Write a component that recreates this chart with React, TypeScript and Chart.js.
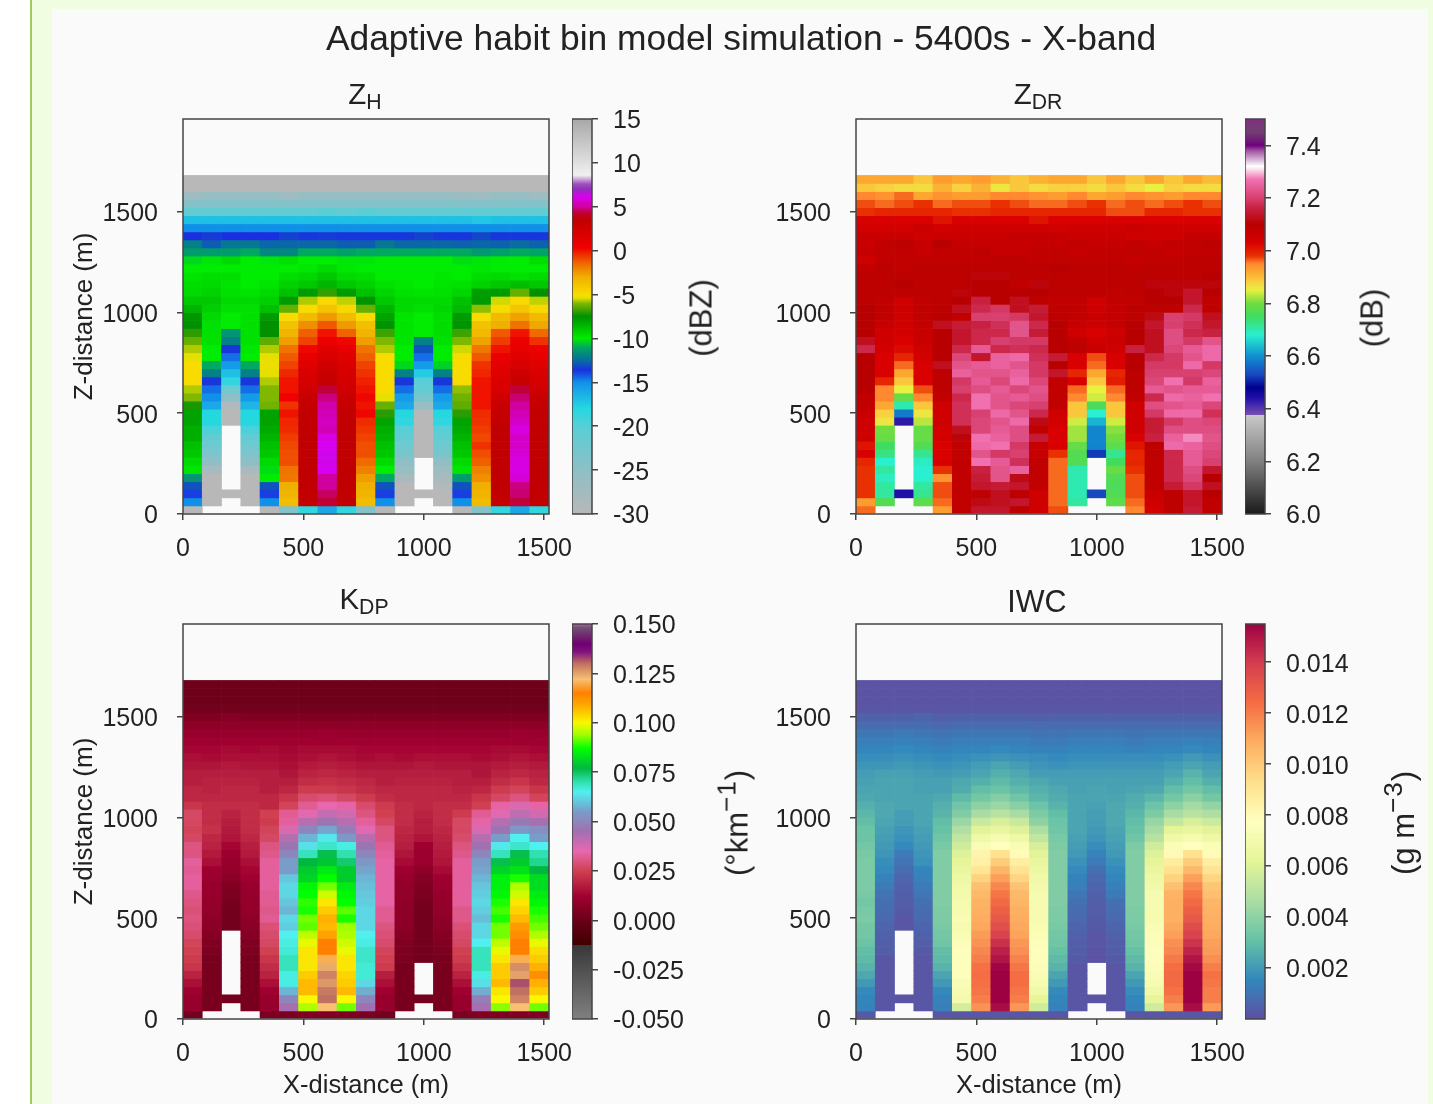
import React, { useEffect, useRef } from "react";
import { Chart, registerables } from "chart.js";

Chart.register(...registerables);

const n = null;
const xStep = 80;
const zStep = 40;
const xMax = 1520;
const zMax = 1960;
const xTicks = [0, 500, 1000, 1500];
const zTicks = [0, 500, 1000, 1500];
const zhTicks = [-30, -25, -20, -15, -10, -5, 0, 5, 10, 15];
const zdrTicks = [6.0, 6.2, 6.4, 6.6, 6.8, 7.0, 7.2, 7.4];
const kdpTicks = [-0.05, -0.025, 0, 0.025, 0.05, 0.075, 0.1, 0.125, 0.15];
const iwcTicks = [0.002, 0.004, 0.006, 0.008, 0.01, 0.012, 0.014];

// ZH (dBZ): rows from z = 1660 m (top) to z = 20 m (bottom)
const zhRows: (number | null)[][] = [
  [-30, -30, -30, -30, -30, -30, -30, -30, -30, -30, -30, -30, -30, -30, -30, -30, -30, -30, -30],
  [-30, -30, -30, -30, -30, -30, -30, -30, -30, -30, -30, -30, -30, -30, -30, -30, -30, -30, -30],
  [-27, -26, -26, -26, -26, -27, -26, -26, -26, -26, -26, -26, -26, -26, -26.5, -27, -26, -26, -27],
  [-24, -24, -24, -24, -24, -24, -24, -24, -24, -24, -24, -24, -24, -24, -24, -24, -24, -24, -24],
  [-21, -21, -21, -21, -21, -21, -21, -20.5, -21, -20.5, -21, -21, -21, -21, -21, -21, -21, -21, -21],
  [-17, -17, -17, -17, -17, -17, -17, -17, -17, -17, -17, -17, -17, -17, -17, -17.3, -17, -17, -17],
  [-15, -15, -15, -15, -15, -15, -15, -15, -15, -15, -15, -15, -15, -15, -15, -15, -15, -15, -15],
  [-13.6, -13.4, -13.6, -13.6, -13.6, -13.3, -13.5, -13.4, -13.5, -13.5, -13.5, -13.5, -13.3, -13.5, -13.5, -13.2, -13.5, -13.5, -13.5],
  [-12, -12.8, -12.2, -12.2, -12.6, -12.6, -12.6, -12.6, -12.8, -12.8, -12.2, -12.6, -12.6, -12.6, -12.7, -12.6, -12.7, -12.5, -12.7],
  [-11.3, -11.3, -11.3, -11, -11.8, -11.8, -11, -11, -11.2, -11, -11, -11, -11, -11, -11, -11.4, -11.2, -11, -11.1],
  [-10.3, -10.1, -9.5, -10, -10.1, -9.7, -10, -10, -10.1, -10.1, -10, -10, -10, -10, -10.2, -10.1, -10, -10, -9.6],
  [-10, -10, -10, -10, -10, -10, -9.9, -9.5, -9.9, -10, -10, -10, -10, -10, -10, -9.9, -10, -10, -10],
  [-9.8, -9.6, -9.6, -10, -10, -9.6, -9.4, -9, -9.5, -9.6, -10, -10, -10, -9.9, -10, -9.6, -9.5, -9.7, -9.5],
  [-9.6, -9.5, -9.8, -10, -9.8, -9.3, -9, -8.5, -9, -9.3, -9.7, -9.9, -10, -9.8, -9.7, -9.3, -9, -8.7, -9],
  [-9.5, -9.3, -9.7, -9.8, -9.5, -8.8, -7.8, -6.9, -7.8, -8.8, -9.4, -9.7, -9.8, -9.7, -9.4, -7.9, -7.8, -6.3, -7.5],
  [-9, -9, -9.5, -9.5, -9.2, -7.8, -5.7, -4.9, -5.6, -7.6, -9, -9.5, -9.5, -9.5, -8.8, -7.8, -5.5, -4.9, -5.6],
  [-8.5, -9.2, -9.7, -9.7, -8.8, -6.3, -5, -3.8, -4.8, -6.3, -8.5, -9.5, -9.7, -9.4, -8.6, -5.9, -5, -4, -4.8],
  [-7.7, -9.5, -10, -9.7, -7.8, -5, -3.5, -2.5, -3.6, -5, -8, -9.8, -10, -9.6, -7.8, -5, -3.5, -2.7, -3.5],
  [-7.5, -9.7, -10, -9.7, -7.5, -3.8, -2.3, -1.2, -2.5, -3.7, -7.6, -9.8, -10, -9.6, -7.6, -3.8, -3, -1.7, -2.8],
  [-7, -9.7, -11.5, -9.7, -7.5, -3.2, -1.3, 0, -1.4, -3.2, -6.8, -9.8, -10, -9.6, -6.8, -3.4, -1.2, 0, -1.5],
  [-6.3, -9.7, -12, -9.7, -6.4, -2.6, -0.8, 0.5, 0.2, -2.6, -6, -9.8, -12, -9.7, -6, -2.7, -0.7, 0.6, -0.5],
  [-5.7, -10, -13.5, -9.9, -5.7, -1.7, 0.2, 1.5, 1, -1.7, -5.7, -10, -13, -10, -5.5, -1.8, 0, 1, 0.5],
  [-5.3, -10, -14.5, -10, -5.3, -1.2, 1, 2, 1.5, -1.3, -5, -10, -14.5, -10, -5, -1.2, 0.7, 1.5, 1],
  [-5, -11, -15.5, -11, -5.2, -0.8, 1.5, 2.5, 1.8, -0.8, -5, -10.3, -15.5, -10.4, -5, -0.5, 1.2, 2, 1.5],
  [-5, -12, -17, -12, -5.3, -0.3, 2, 3, 2.2, -0.5, -5, -12, -17.5, -12, -5, -0.3, 1.5, 2.8, 2],
  [-5, -13.5, -18.5, -13.5, -5.7, 0, 2.2, 3.2, 2.3, -0.2, -5, -13.5, -20, -13.5, -5, 0, 1.8, 3, 2.2],
  [-5.7, -14.5, -22, -14.5, -6, 0, 2.5, 4.3, 2.5, 0, -5, -14.5, -21, -14.5, -5.9, 0, 2, 4.3, 2.5],
  [-6, -15, -25, -15.5, -6, 0.3, 3, 4.8, 3, 0.2, -5.3, -15.5, -23, -15.5, -6.2, 0, 2.5, 4.7, 3],
  [-7.2, -16, -29, -16.5, -6.2, -0.5, 3.2, 5.2, 3.2, 0, -6.3, -16, -26, -16, -6.4, 0, 3, 5, 3.3],
  [-8, -18, -30, -18, -8, 0, 3.5, 5.3, 3.5, 0.2, -7, -18, -30, -18, -7, -0.4, 3.3, 5.3, 3.5],
  [-8, -18, -30, -18, -8, -0.3, 3.5, 5.5, 3.5, -0.4, -8, -18.5, -30, -18.5, -8, -0.5, 3.5, 5.6, 3.5],
  [-8.3, -19.5, n, -19.5, -8.2, -0.4, 3.6, 5.3, 3.6, -0.6, -8.3, -20, -30, -20, -8.2, -0.7, 3.6, 6, 3.6],
  [-8.3, -21, n, -21, -8.5, -0.7, 3.6, 6, 3.6, -0.8, -8.5, -21, -30, -21, -8.5, -0.9, 3.6, 5.6, 3.6],
  [-8.8, -22, n, -22, -8.8, -0.9, 3.6, 6.2, 3.6, -1, -8.8, -22, -30, -22, -8.8, -0.5, 3.6, 5.6, 3.6],
  [-9, -23.5, n, -23.5, -9, -1, 3.6, 6.3, 3.6, -1, -9, -23, -30, -23, -9, -1, 3.6, 5.8, 3.6],
  [-9.5, -25, n, -25, -9.5, -1, 3.6, 6.3, 3.6, -1.5, -9.5, -25, n, -25, -9.5, -1.3, 3.6, 6, 3.6],
  [-9.8, -28, n, -28, -10.2, -1.7, 3.6, 6.2, 3.6, -2, -10, -26, n, -27, -9.8, -2, 3.6, 6, 3.6],
  [-11.5, -30, n, -30, -10, -1.8, 3.6, 5, 3.6, -2.6, -11, -28, n, -28, -11.3, -2.3, 3.6, 5.8, 3.6],
  [-13, -30, n, -30, -13, -3, 3.6, 5, 3.6, -3, -13, -30, n, -29, -13, -3, 3.6, 4.8, 3.6],
  [-13.8, -30, -30, -30, -13.8, -3.2, 3.5, 4.6, 3.5, -3.2, -13.8, -30, -30, -30, -13.8, -3.2, 3.5, 4.7, 3.5],
  [-15, -30, n, -30, -15, -3.6, 3.4, 4.2, 3.4, -3.6, -15, -30, n, -30, -15, -3.5, 3.3, 4.3, 3.4],
  [-30, n, n, n, -30, -24, -18.5, -16, -18.5, -24, -30, n, n, n, -30, -24, -18.5, -16, -18.5],
];

// ZDR (dB): rows from z = 1660 m (top) to z = 20 m (bottom)
const zdrRows: (number | null)[][] = [
  [6.92, 6.92, 6.92, 6.89, 6.93, 6.92, 6.93, 6.91, 6.89, 6.91, 6.92, 6.92, 6.89, 6.92, 6.89, 6.92, 6.89, 6.92, 6.9],
  [6.89, 6.88, 6.87, 6.87, 6.91, 6.88, 6.91, 6.86, 6.89, 6.87, 6.88, 6.88, 6.87, 6.89, 6.87, 6.85, 6.88, 6.87, 6.87],
  [6.95, 6.94, 6.96, 6.92, 6.94, 6.93, 6.93, 6.95, 6.95, 6.94, 6.93, 6.95, 6.92, 6.93, 6.95, 6.94, 6.93, 6.95, 6.95],
  [6.97, 6.96, 6.97, 6.98, 6.96, 6.97, 6.97, 6.98, 6.97, 6.96, 6.96, 6.97, 6.98, 6.96, 6.97, 6.96, 6.97, 6.98, 6.97],
  [6.98, 6.99, 6.99, 6.99, 6.99, 6.98, 6.98, 6.99, 6.99, 6.99, 6.99, 6.99, 6.99, 6.97, 6.97, 6.99, 6.99, 6.98, 6.98],
  [7.03, 7.03, 7.03, 7.03, 7.01, 7.03, 7.03, 7.03, 7.03, 7.01, 7.03, 7.03, 7.03, 7.03, 7.03, 7.03, 7.03, 7.03, 7.03],
  [7.04, 7.04, 7.04, 7.06, 7.04, 7.05, 7.05, 7.05, 7.05, 7.05, 7.04, 7.05, 7.05, 7.05, 7.06, 7.05, 7.05, 7.05, 7.05],
  [7.06, 7.06, 7.06, 7.05, 7.06, 7.06, 7.06, 7.06, 7.07, 7.07, 7.07, 7.06, 7.06, 7.06, 7.05, 7.05, 7.05, 7.07, 7.07],
  [7.06, 7.08, 7.09, 7.07, 7.1, 7.07, 7.07, 7.07, 7.07, 7.07, 7.07, 7.08, 7.07, 7.07, 7.08, 7.07, 7.08, 7.08, 7.09],
  [7.07, 7.08, 7.08, 7.07, 7.08, 7.08, 7.09, 7.07, 7.07, 7.08, 7.08, 7.07, 7.08, 7.08, 7.08, 7.08, 7.07, 7.08, 7.08],
  [7.05, 7.08, 7.08, 7.08, 7.08, 7.08, 7.08, 7.09, 7.09, 7.08, 7.08, 7.08, 7.08, 7.08, 7.07, 7.08, 7.08, 7.09, 7.09],
  [7.08, 7.09, 7.08, 7.09, 7.09, 7.09, 7.09, 7.09, 7.09, 7.09, 7.1, 7.09, 7.09, 7.09, 7.09, 7.09, 7.09, 7.09, 7.09],
  [7.09, 7.09, 7.09, 7.09, 7.09, 7.09, 7.11, 7.11, 7.09, 7.09, 7.09, 7.09, 7.09, 7.09, 7.09, 7.09, 7.09, 7.09, 7.1],
  [7.09, 7.09, 7.1, 7.09, 7.09, 7.09, 7.1, 7.1, 7.08, 7.11, 7.09, 7.09, 7.09, 7.09, 7.09, 7.11, 7.11, 7.11, 7.11],
  [7.09, 7.09, 7.09, 7.09, 7.09, 7.11, 7.1, 7.1, 7.1, 7.1, 7.09, 7.09, 7.09, 7.08, 7.09, 7.1, 7.11, 7.14, 7.1],
  [7.09, 7.08, 7.05, 7.08, 7.09, 7.1, 7.16, 7.1, 7.13, 7.09, 7.08, 7.08, 7.05, 7.08, 7.08, 7.1, 7.1, 7.14, 7.08],
  [7.1, 7.08, 7.05, 7.08, 7.09, 7.13, 7.17, 7.19, 7.13, 7.15, 7.08, 7.08, 7.05, 7.07, 7.09, 7.09, 7.09, 7.17, 7.08],
  [7.1, 7.08, 7.05, 7.08, 7.1, 7.08, 7.2, 7.2, 7.19, 7.14, 7.09, 7.08, 7.06, 7.07, 7.09, 7.12, 7.2, 7.19, 7.13],
  [7.1, 7.06, 7.04, 7.07, 7.13, 7.15, 7.16, 7.18, 7.23, 7.17, 7.1, 7.06, 7.05, 7.07, 7.1, 7.14, 7.2, 7.18, 7.14],
  [7.1, 7.05, 7.04, 7.06, 7.1, 7.14, 7.17, 7.17, 7.23, 7.15, 7.1, 7.05, 7.03, 7.05, 7.1, 7.13, 7.22, 7.17, 7.16],
  [7.13, 7.05, 7.03, 7.06, 7.1, 7.14, 7.17, 7.2, 7.19, 7.19, 7.1, 7.08, 7.05, 7.06, 7.1, 7.13, 7.22, 7.19, 7.23],
  [7.17, 7.04, 7.02, 7.05, 7.1, 7.17, 7.24, 7.17, 7.18, 7.17, 7.1, 7.09, 7.06, 7.05, 7.16, 7.13, 7.21, 7.24, 7.26],
  [7.1, 7.03, 6.99, 7.04, 7.1, 7.21, 7.14, 7.25, 7.26, 7.18, 7.15, 7.03, 6.97, 7.03, 7.1, 7.17, 7.19, 7.23, 7.26],
  [7.1, 7.03, 6.96, 7.03, 7.13, 7.23, 7.24, 7.25, 7.23, 7.19, 7.1, 7.03, 6.96, 7.03, 7.1, 7.19, 7.19, 7.26, 7.19],
  [7.1, 7.03, 6.92, 7.03, 7.09, 7.25, 7.23, 7.23, 7.25, 7.19, 7.14, 6.99, 6.92, 6.99, 7.09, 7.2, 7.2, 7.2, 7.21],
  [7.1, 6.99, 6.89, 7.03, 7.09, 7.19, 7.24, 7.21, 7.26, 7.21, 7.08, 7.03, 6.89, 7.0, 7.09, 7.21, 7.27, 7.19, 7.25],
  [7.1, 6.95, 6.85, 6.97, 7.09, 7.2, 7.22, 7.24, 7.21, 7.23, 7.08, 6.96, 6.85, 6.96, 7.09, 7.24, 7.23, 7.24, 7.24],
  [7.08, 6.95, 6.79, 6.95, 7.08, 7.17, 7.27, 7.23, 7.24, 7.22, 7.08, 6.95, 6.84, 6.95, 7.08, 7.17, 7.26, 7.25, 7.27],
  [7.08, 6.92, 6.7, 6.89, 7.05, 7.18, 7.27, 7.23, 7.21, 7.2, 7.08, 6.89, 6.76, 6.89, 7.05, 7.22, 7.23, 7.24, 7.21],
  [7.06, 6.88, 6.58, 6.86, 7.05, 7.18, 7.2, 7.26, 7.23, 7.17, 7.05, 6.89, 6.68, 6.89, 7.05, 7.19, 7.26, 7.26, 7.18],
  [7.05, 6.86, 6.43, 6.83, 7.05, 7.18, 7.21, 7.23, 7.26, 7.12, 7.04, 6.84, 6.63, 6.84, 7.05, 7.15, 7.19, 7.22, 7.21],
  [7.05, 6.8, n, 6.79, 7.04, 7.13, 7.21, 7.24, 7.22, 7.08, 7.03, 6.82, 6.59, 6.81, 7.05, 7.15, 7.22, 7.22, 7.22],
  [7.05, 6.79, n, 6.79, 7.04, 7.11, 7.27, 7.25, 7.22, 7.15, 7.03, 6.82, 6.59, 6.8, 7.03, 7.16, 7.25, 7.28, 7.23],
  [7.01, 6.75, n, 6.77, 7.03, 7.08, 7.26, 7.27, 7.19, 7.07, 7.03, 6.79, 6.59, 6.78, 7.01, 7.09, 7.26, 7.25, 7.22],
  [7.03, 6.73, n, 6.72, 7.03, 7.08, 7.23, 7.19, 7.2, 7.07, 6.98, 6.77, 6.52, 6.72, 6.99, 7.09, 7.17, 7.24, 7.21],
  [6.99, 6.68, n, 6.69, 7.03, 7.08, 7.27, 7.24, 7.18, 7.08, 6.96, 6.77, n, 6.75, 6.99, 7.08, 7.17, 7.24, 7.2],
  [6.98, 6.71, n, 6.68, 6.98, 7.08, 7.16, 7.23, 7.25, 7.08, 6.96, 6.7, n, 6.79, 6.98, 7.08, 7.17, 7.22, 7.14],
  [6.98, 6.69, n, 6.68, 6.94, 7.08, 7.15, 7.23, 7.12, 7.08, 6.96, 6.7, n, 6.77, 6.97, 7.08, 7.17, 7.21, 7.1],
  [6.98, 6.71, n, 6.71, 6.97, 7.08, 7.14, 7.15, 7.14, 7.08, 6.96, 6.7, n, 6.76, 6.97, 7.08, 7.15, 7.19, 7.13],
  [6.98, 6.71, 6.44, 6.72, 6.97, 7.08, 7.09, 7.13, 7.09, 7.05, 6.96, 6.7, 6.53, 6.77, 6.97, 7.06, 7.09, 7.14, 7.1],
  [6.93, 6.77, n, 6.78, 6.96, 7.08, 7.12, 7.13, 7.14, 7.05, 6.96, 6.71, n, 6.78, 6.96, 7.05, 7.09, 7.14, 7.08],
  [6.96, n, n, n, 6.93, 7.08, 7.14, 7.14, 7.09, 7.05, 6.97, n, n, n, 6.95, 7.04, 7.09, 7.15, 7.08],
];

// KDP (deg/km): columns from x = 40 m to x = 1480 m, each running from z = 20 m upward
const kdpCols: (number | null)[][] = [
  [.002,.01,.01,.012,.015,.019,.023,.024,.025,.026, .028,.029,.03,.029,.03,.031,.033,.033,.032,.033, .03,.03,.027,.026,.027,.027,.023,.02,.02,.018, .018,.016,.015,.013,.012,.01,.008,.005,.002,.001,.001,.001],
  [n,.003,.003,.003,.003,.003,.003,.003,.004,.005, .006,.007,.008,.009,.009,.01,.01,.011,.012,.015, .017,.019,.02,.022,.021,.021,.021,.02,.019,.019, .018,.016,.014,.013,.012,.01,.008,.005,.002,.001,.001,.001],
  [n,n,.002,n,n,n,n,n,n,n, n,.002,.002,.002,.003,.004,.005,.007,.009,.01, .011,.013,.016,.017,.018,.019,.021,.02,.02,.019, .018,.017,.015,.014,.012,.01,.008,.006,.002,.001,.001,.001],
  [n,.003,.003,.003,.003,.003,.003,.003,.004,.005, .006,.007,.008,.009,.009,.01,.01,.012,.013,.015, .017,.018,.02,.021,.021,.021,.021,.02,.02,.019, .018,.016,.015,.013,.012,.01,.008,.005,.002,.001,.001,.001],
  [.004,.01,.01,.012,.015,.019,.021,.023,.025,.027, .028,.029,.032,.031,.032,.032,.033,.033,.033,.033, .031,.03,.027,.026,.024,.025,.02,.02,.018,.018, .018,.016,.015,.014,.012,.01,.008,.005,.002,.001,.001,.001],
  [.004,.044,.05,.058,.066,.066,.069,.069,.067,.066, .065,.061,.062,.058,.06,.062,.062,.06,.055,.055, .05,.046,.042,.037,.033,.032,.026,.023,.02,.018, .016,.015,.014,.013,.012,.01,.008,.005,.002,.001,.001,.001],
  [.005,.095,.1,.107,.107,.105,.102,.102,.102,.099, .096,.091,.092,.088,.089,.087,.086,.081,.08,.077, .069,.063,.058,.05,.042,.036,.032,.028,.024,.021, .019,.017,.015,.014,.012,.01,.008,.005,.002,.001,.001,.001],
  [.005,.122,.13,.129,.126,.128,.124,.12,.115,.115, .11,.107,.108,.105,.102,.097,.092,.087,.084,.079, .076,.068,.064,.056,.046,.04,.035,.029,.024,.022, .02,.018,.016,.014,.012,.011,.008,.005,.002,.001,.001,.001],
  [.005,.092,.1,.107,.105,.104,.102,.102,.099,.097, .095,.094,.088,.091,.087,.086,.084,.08,.08,.074, .07,.066,.054,.048,.042,.038,.034,.027,.023,.021, .019,.017,.015,.014,.012,.01,.008,.005,.002,.001,.001,.001],
  [.004,.045,.05,.057,.062,.067,.067,.068,.068,.066, .065,.062,.062,.062,.061,.06,.059,.058,.056,.054, .05,.046,.042,.036,.033,.03,.028,.024,.021,.02, .018,.016,.014,.013,.012,.01,.008,.005,.002,.001,.001,.001],
  [.002,.01,.01,.012,.015,.018,.024,.025,.026,.028, .029,.03,.032,.032,.034,.034,.034,.034,.034,.034, .033,.032,.03,.03,.027,.025,.024,.021,.02,.018, .018,.016,.015,.013,.012,.01,.008,.005,.002,.001,.001,.001],
  [n,.003,.003,.003,.003,.003,.003,.004,.004,.005, .006,.007,.008,.008,.008,.009,.009,.01,.012,.014, .016,.018,.019,.02,.021,.021,.021,.02,.02,.019, .018,.016,.014,.013,.012,.01,.008,.005,.002,.001,.001,.001],
  [n,n,.002,n,n,n,n,.002,.002,.002, .002,.002,.002,.002,.003,.004,.005,.006,.008,.011, .011,.012,.016,.018,.018,.019,.02,.02,.02,.019, .018,.017,.015,.013,.012,.01,.008,.005,.002,.001,.001,.001],
  [n,.003,.003,.003,.003,.003,.003,.003,.004,.005, .006,.007,.008,.009,.009,.01,.011,.012,.014,.016, .017,.018,.019,.02,.021,.021,.021,.02,.02,.019, .018,.016,.015,.013,.012,.01,.008,.005,.002,.001,.001,.001],
  [.004,.01,.01,.012,.015,.019,.022,.024,.025,.027, .028,.029,.031,.031,.033,.033,.033,.033,.033,.033, .031,.03,.028,.027,.027,.024,.021,.02,.019,.018, .018,.016,.015,.013,.012,.01,.008,.005,.002,.001,.001,.001],
  [.005,.044,.048,.057,.063,.066,.069,.069,.069,.065, .062,.062,.059,.061,.062,.061,.06,.058,.056,.055, .05,.045,.042,.037,.034,.032,.025,.023,.02,.018, .016,.016,.014,.013,.012,.01,.008,.005,.002,.001,.001,.001],
  [.005,.093,.1,.102,.107,.105,.105,.102,.099,.096, .092,.092,.088,.09,.088,.086,.085,.085,.081,.076, .069,.064,.055,.046,.042,.036,.034,.027,.024,.021, .019,.017,.015,.014,.012,.01,.008,.005,.002,.001,.001,.001],
  [.005,.122,.128,.13,.132,.125,.127,.12,.115,.115, .113,.111,.107,.104,.102,.097,.095,.088,.083,.08, .076,.068,.065,.054,.047,.041,.037,.03,.026,.023, .02,.018,.016,.014,.012,.011,.008,.005,.002,.001,.001,.001],
  [.005,.092,.1,.105,.108,.113,.108,.105,.103,.099, .095,.092,.09,.088,.086,.084,.082,.082,.077,.072, .07,.065,.055,.052,.044,.038,.034,.026,.023,.02, .019,.017,.015,.013,.012,.01,.008,.005,.002,.001,.001,.001],
];

// IWC (g/m3): columns from x = 40 m to x = 1480 m, each running from z = 20 m upward
const iwcCols: (number | null)[][] = [
  [.0003,.0014,.0015,.0016,.002,.0024,.0027,.0029,.003,.0032, .0034,.0034,.0036,.0035,.0034,.0035,.0036,.0036,.0036,.0036, .0035,.0034,.0032,.0032,.003,.0028,.0026,.0024,.0023,.0022, .0021,.0019,.0017,.0015,.0013,.0011,.0008,.0005,.0002,.0001,.0001,.0001],
  [n,.0002,.0002,.0002,.0002,.0002,.0002,.0002,.0004,.0004, .0005,.0006,.0007,.0008,.0009,.001,.0012,.0014,.0016,.0017, .0019,.002,.0021,.0022,.0023,.0024,.0024,.0023,.0023,.0023, .0022,.0019,.0017,.0015,.0013,.0011,.0008,.0005,.0002,.0001,.0001,.0001],
  [n,n,.0001,n,n,n,n,n,n,n, n,.0002,.0002,.0003,.0004,.0004,.0005,.0006,.0008,.001, .0012,.0016,.0018,.0019,.0021,.0021,.0023,.0023,.0023,.0023, .0022,.002,.0018,.0016,.0014,.0012,.0008,.0005,.0002,.0001,.0001,.0001],
  [n,.0002,.0002,.0002,.0002,.0002,.0002,.0002,.0003,.0004, .0005,.0006,.0007,.0008,.0009,.0011,.0012,.0014,.0015,.0018, .0019,.002,.0021,.0022,.0023,.0023,.0023,.0023,.0022,.0022, .0021,.0019,.0017,.0015,.0013,.0011,.0008,.0006,.0002,.0001,.0001,.0001],
  [.0002,.0013,.0014,.0016,.002,.0023,.0027,.0029,.003,.0033, .0034,.0035,.0036,.0036,.0037,.0037,.0037,.0037,.0037,.0037, .0037,.0035,.0033,.0031,.003,.0027,.0026,.0024,.0022,.0022, .002,.0018,.0016,.0014,.0012,.001,.0007,.0004,.0002,.0001,.0001,.0001],
  [.0002,.0057,.007,.0072,.0073,.0076,.0076,.0076,.0076,.0075, .0073,.0072,.0073,.0071,.0071,.007,.0069,.0067,.0065,.0062, .006,.0056,.0052,.0048,.0043,.0037,.0033,.0029,.0025,.0024, .0021,.0019,.0017,.0015,.0013,.0011,.0008,.0005,.0002,.0001,.0001,.0001],
  [.0002,.0115,.012,.0122,.0123,.0124,.0123,.012,.0118,.0115, .0113,.011,.0109,.0108,.0107,.0105,.0103,.0097,.009,.0085, .0083,.0073,.0068,.0061,.0054,.0046,.004,.0034,.003,.0026, .0023,.0021,.0018,.0015,.0013,.0011,.0008,.0005,.0002,.0001,.0001,.0001],
  [.0002,.0152,.0155,.0155,.0155,.0155,.0154,.015,.0147,.0143, .0138,.0134,.0131,.0128,.0125,.0122,.0118,.0112,.0106,.0099, .0092,.0077,.0072,.0064,.0058,.005,.0043,.0038,.0032,.0029, .0026,.0023,.0019,.0016,.0013,.0011,.0008,.0005,.0002,.0001,.0001,.0001],
  [.0002,.0114,.012,.0122,.0124,.0124,.0122,.0119,.0116,.0114, .0111,.011,.0109,.0108,.0106,.0105,.0102,.0096,.0091,.0086, .0079,.0073,.0067,.006,.0054,.0046,.0039,.0033,.0029,.0026, .0024,.0021,.0018,.0015,.0013,.0011,.0008,.0005,.0002,.0001,.0001,.0001],
  [.0002,.0056,.0062,.0068,.0071,.0073,.0075,.0076,.0076,.0075, .0074,.0073,.0071,.0072,.0072,.0071,.007,.0068,.0066,.0064, .0061,.0058,.0052,.0047,.004,.0036,.0032,.0028,.0026,.0024, .0021,.0019,.0017,.0014,.0012,.001,.0008,.0004,.0002,.0001,.0001,.0001],
  [.0002,.0014,.0015,.0016,.002,.0023,.0027,.0029,.0031,.0033, .0034,.0035,.0036,.0036,.0037,.0037,.0037,.0037,.0037,.0037, .0037,.0036,.0035,.0033,.0032,.003,.0027,.0025,.0024,.0022, .0021,.0018,.0016,.0014,.0012,.001,.0008,.0005,.0002,.0001,.0001,.0001],
  [n,.0002,.0002,.0002,.0002,.0002,.0002,.0003,.0004,.0004, .0005,.0006,.0007,.0008,.0009,.0011,.0013,.0014,.0016,.0018, .002,.0021,.0022,.0023,.0023,.0023,.0023,.0023,.0022,.0022, .0021,.0019,.0017,.0015,.0013,.0011,.0008,.0005,.0002,.0001,.0001,.0001],
  [n,n,.0001,n,n,n,n,.0001,.0001,.0002, .0002,.0003,.0003,.0004,.0004,.0005,.0006,.0007,.0009,.0012, .0014,.0017,.0019,.002,.0021,.0021,.0022,.0023,.0023,.0022, .0021,.0019,.0017,.0015,.0013,.0011,.0008,.0005,.0002,.0001,.0001,.0001],
  [n,.0002,.0002,.0002,.0002,.0002,.0002,.0003,.0004,.0004, .0005,.0006,.0007,.0008,.0009,.0012,.0013,.0015,.0016,.0018, .002,.0021,.0022,.0023,.0024,.0024,.0024,.0023,.0022,.0022, .0021,.0019,.0017,.0015,.0013,.0011,.0008,.0005,.0002,.0001,.0001,.0001],
  [.0002,.0014,.0015,.0017,.002,.0023,.0027,.0029,.0031,.0033, .0034,.0035,.0036,.0036,.0037,.0037,.0037,.0037,.0037,.0037, .0037,.0036,.0033,.0031,.003,.0028,.0026,.0025,.0023,.0022, .0021,.0019,.0017,.0014,.0012,.001,.0008,.0005,.0002,.0001,.0001,.0001],
  [.0002,.0056,.0063,.0068,.0071,.0073,.0075,.0076,.0076,.0075, .0075,.0073,.0072,.0071,.0072,.0072,.0069,.0067,.0065,.0062, .006,.0056,.005,.0046,.0042,.0036,.0032,.0028,.0024,.0022, .0021,.0019,.0017,.0015,.0013,.0011,.0008,.0005,.0002,.0001,.0001,.0001],
  [.0002,.0114,.012,.0123,.0125,.0125,.0124,.0121,.0118,.0116, .0112,.011,.0108,.0108,.0108,.0107,.0103,.0097,.0092,.0087, .008,.0074,.0068,.0062,.0053,.0046,.004,.0034,.003,.0026, .0023,.0021,.0018,.0015,.0013,.0011,.0008,.0005,.0002,.0001,.0001,.0001],
  [.0002,.0152,.0155,.0155,.0155,.0155,.0153,.015,.0146,.0142, .0138,.0135,.0131,.0128,.0125,.0122,.0118,.0112,.0105,.0099, .0092,.0077,.0071,.0064,.0058,.005,.0045,.0039,.0034,.003, .0027,.0023,.002,.0016,.0014,.0011,.0008,.0005,.0002,.0001,.0001,.0001],
  [.0002,.0113,.012,.012,.0122,.0123,.012,.0116,.0113,.0112, .011,.0109,.0108,.0107,.0106,.0103,.0101,.0096,.0091,.0086, .0079,.0074,.0067,.0061,.0055,.0047,.0041,.0034,.003,.0026, .0023,.0021,.0018,.0015,.0013,.0011,.0008,.0005,.0002,.0001,.0001,.0001],
];

type Stop = [number, string];

const zhStops: Stop[] = [
  [-30, "#b8b8b8"], [-25, "#8ebfc6"], [-20, "#58cfd6"], [-18, "#25d8e0"], [-16, "#1aa8e8"], [-15, "#1090e8"],
  [-13.6, "#1a30e0"], [-12.6, "#0a68a8"], [-12, "#048088"], [-11, "#00a860"], [-10, "#00ec00"], [-9, "#00c800"],
  [-7.5, "#009000"], [-6, "#80b800"], [-5.4, "#e0e000"], [-5, "#f8dc00"], [-3, "#f0b000"], [-1.5, "#f06a00"],
  [-0.2, "#f02000"], [0.3, "#f00000"], [2, "#d80000"], [3.6, "#c00000"], [4.4, "#c00040"], [5, "#d000a0"],
  [6.2, "#d800f0"], [7, "#9030b8"], [7.6, "#a050c0"], [8.6, "#f0f0f0"], [10, "#e0e0e0"], [15, "#a8a8a8"],
];

const zdrStops: Stop[] = [
  [6.0, "#1a1a1a"], [6.2, "#808080"], [6.375, "#c8c8c8"], [6.375, "#7a50b0"], [6.44, "#2010a8"], [6.48, "#000090"],
  [6.53, "#1848c0"], [6.6, "#1090d0"], [6.68, "#28f0d0"], [6.75, "#40dc60"], [6.8, "#70dc40"], [6.85, "#e8f040"],
  [6.88, "#f8d040"], [6.92, "#fca830"], [6.95, "#ff8830"], [6.98, "#e83000"], [7.03, "#d80000"], [7.1, "#b80000"],
  [7.16, "#c82040"], [7.2, "#d84070"], [7.27, "#f070b0"], [7.32, "#ffffff"], [7.38, "#a050a0"], [7.4, "#700080"],
  [7.45, "#704070"], [7.5, "#803080"],
];

const kdpStops: Stop[] = [
  [-0.05, "#808080"], [-0.0127, "#383838"], [-0.0127, "#400000"], [0, "#6a0018"], [0.012, "#a00030"], [0.025, "#d04050"],
  [0.035, "#e868b0"], [0.045, "#a070b0"], [0.055, "#7a9cc8"], [0.065, "#50f0f0"], [0.07, "#30e0b0"], [0.077, "#00b840"],
  [0.087, "#00ff00"], [0.094, "#a0ff00"], [0.1, "#f8f800"], [0.108, "#ffb000"], [0.115, "#ff8000"], [0.122, "#f8c070"],
  [0.13, "#c07060"], [0.136, "#801080"], [0.14, "#700070"], [0.148, "#705070"], [0.15, "#b060b0"],
];

const iwcStops: Stop[] = [
  [0, "#5e4fa2"], [0.00155, "#3288bd"], [0.0031, "#66c2a5"], [0.00465, "#abdda4"], [0.0062, "#e6f598"], [0.00775, "#ffffbf"],
  [0.0093, "#fee08b"], [0.01085, "#fdae61"], [0.0124, "#f46d43"], [0.01395, "#d53e4f"], [0.0155, "#9e0142"],
];

const fontFamily = '"Liberation Sans", Arial, sans-serif';
const ink = "#222222";
const axisColor = "#444444";
const tickFont = 25;

function hexRgb(h: string) {
  return [1, 3, 5].map((i) => parseInt(h.slice(i, i + 2), 16));
}

function colorAt(stops: Stop[], v: number) {
  if (v <= stops[0][0]) return stops[0][1];
  for (let i = 1; i < stops.length; i++) {
    const [b, cb] = stops[i];
    if (v <= b) {
      const [a, ca] = stops[i - 1];
      const t = b === a ? 1 : (v - a) / (b - a);
      const A = hexRgb(ca);
      const B = hexRgb(cb);
      return `rgb(${A.map((x, j) => Math.round(x + (B[j] - x) * t)).join(",")})`;
    }
  }
  return stops[stops.length - 1][1];
}

const boxPlugin = {
  id: "frameBox",
  afterDraw(chart: any) {
    const { ctx, chartArea: a } = chart;
    ctx.save();
    ctx.strokeStyle = axisColor;
    ctx.lineWidth = 1.5;
    ctx.strokeRect(a.left, a.top, a.right - a.left, a.bottom - a.top);
    ctx.restore();
  },
};

function makeCells(getValue: (col: number, row: number) => number | null | undefined) {
  const cells: { x: number; y: [number, number]; v: number }[] = [];
  for (let i = 0; i < 19; i++) {
    for (let k = 0; k < 42; k++) {
      const v = getValue(i, k);
      if (v === null || v === undefined) continue;
      cells.push({ x: (i + 0.5) * xStep, y: [k * zStep, (k + 1) * zStep], v });
    }
  }
  return cells;
}

const panelW = 366;
const panelH = 395;
const padL = 125;
const padT = 42;
const padR = 60;

function Heat({ left, top, getValue, stops, xTitle, yTitle }: any) {
  const ref = useRef<HTMLCanvasElement>(null);
  useEffect(() => {
    const cells = makeCells(getValue);
    const chart = new Chart(ref.current as HTMLCanvasElement, {
      type: "bar",
      data: {
        datasets: [
          {
            data: cells as any,
            backgroundColor: cells.map((c) => colorAt(stops, c.v)),
            borderWidth: 0,
            barPercentage: 1,
            categoryPercentage: 1,
          },
        ],
      },
      plugins: [boxPlugin],
      options: {
        animation: false,
        responsive: false,
        events: [],
        layout: { padding: { left: 0, top: padT, right: padR, bottom: 0 } },
        plugins: { legend: { display: false }, tooltip: { enabled: false } },
        scales: {
          x: {
            type: "linear",
            offset: false,
            min: 0,
            max: xMax,
            grid: { offset: false, drawOnChartArea: false, drawTicks: true, tickLength: 6, color: axisColor, lineWidth: 1.5 },
            border: { display: false },
            afterBuildTicks: (s: any) => { s.ticks = xTicks.map((value) => ({ value })); },
            afterFit: (s: any) => { s.height = xTitle ? 82 : 50; },
            ticks: { autoSkip: false, maxRotation: 0, font: { size: tickFont, family: fontFamily }, color: ink, padding: 14, callback: (v: any) => String(v) },
            title: { display: !!xTitle, text: xTitle, font: { size: 25.5, family: fontFamily }, color: ink, padding: { top: 0, bottom: 0 } },
          },
          y: {
            min: 0,
            max: zMax,
            grid: { drawOnChartArea: false, drawTicks: true, tickLength: 6, color: axisColor, lineWidth: 1.5 },
            border: { display: false },
            afterBuildTicks: (s: any) => { s.ticks = zTicks.map((value) => ({ value })); },
            afterFit: (s: any) => { s.width = padL; },
            ticks: { autoSkip: false, font: { size: tickFont, family: fontFamily }, color: ink, padding: 19, labelOffset: 2.5, callback: (v: any) => String(v) },
            title: { display: !!yTitle, text: yTitle, font: { size: 26, family: fontFamily }, color: ink, padding: { top: 11, bottom: 0 } },
          },
        },
      } as any,
    });
    return () => chart.destroy();
  }, []);
  return (
    <canvas
      ref={ref}
      width={padL + panelW + padR}
      height={padT + panelH + (xTitle ? 82 : 50)}
      style={{ position: "absolute", left: left - padL, top: top - padT, display: "block" }}
    />
  );
}

function Bar({ left, top, stops, ticks, digits, lo, hi }: any) {
  const ref = useRef<HTMLCanvasElement>(null);
  useEffect(() => {
    const chart = new Chart(ref.current as HTMLCanvasElement, {
      type: "bar",
      data: {
        labels: ["scale"],
        datasets: [
          {
            data: [[lo, hi]] as any,
            borderWidth: 0,
            barPercentage: 1,
            categoryPercentage: 1,
            backgroundColor: (ctx: any) => {
              const { chart: c } = ctx;
              if (!c.chartArea) return "#888";
              const s = c.scales.y;
              const g = c.ctx.createLinearGradient(0, s.getPixelForValue(lo), 0, s.getPixelForValue(hi));
              stops.forEach(([v, col]: Stop) => g.addColorStop((v - lo) / (hi - lo), col));
              return g;
            },
          },
        ],
      },
      plugins: [boxPlugin],
      options: {
        animation: false,
        responsive: false,
        events: [],
        layout: { padding: { left: 0, top: padT, right: 0, bottom: padT } },
        plugins: { legend: { display: false }, tooltip: { enabled: false } },
        scales: {
          x: { display: false },
          y: {
            position: "right",
            min: lo,
            max: hi,
            grid: { drawOnChartArea: false, drawTicks: true, tickLength: 6, color: axisColor, lineWidth: 1.5 },
            border: { display: false },
            afterBuildTicks: (s: any) => { s.ticks = ticks.map((value: number) => ({ value })); },
            afterFit: (s: any) => { s.width = 110; },
            ticks: { autoSkip: false, font: { size: tickFont, family: fontFamily }, color: ink, padding: 15, labelOffset: 2.5, callback: (v: any) => Number(v).toFixed(digits) },
          },
        },
      } as any,
    });
    return () => chart.destroy();
  }, []);
  return (
    <canvas
      ref={ref}
      width={130}
      height={panelH + padT * 2}
      style={{ position: "absolute", left, top: top - padT, display: "block" }}
    />
  );
}

const textBase: React.CSSProperties = { position: "absolute", fontFamily, color: ink, whiteSpace: "nowrap", lineHeight: 1 };

function Centered({ x, y, size, children }: any) {
  return (
    <div style={{ ...textBase, left: x, top: y, fontSize: size, transform: "translate(-50%,-50%)" }}>{children}</div>
  );
}

function Rotated({ x, y, size, children }: any) {
  return (
    <div style={{ ...textBase, left: x, top: y, fontSize: size, transform: "translate(-50%,-50%) rotate(-90deg)" }}>{children}</div>
  );
}

const subStyle: React.CSSProperties = { fontSize: "0.72em", verticalAlign: "-0.22em", lineHeight: 0 };
const supStyle: React.CSSProperties = { fontSize: "0.85em", verticalAlign: "0.45em", lineHeight: 0, letterSpacing: "0.03em" };

export default function App() {
  const top1 = 119;
  const top2 = 624;
  const left1 = 183;
  const left2 = 855.5;
  const zh = (i: number, k: number) => zhRows[41 - k][i];
  const zdr = (i: number, k: number) => zdrRows[41 - k][i];
  const kdp = (i: number, k: number) => kdpCols[i][k];
  const iwc = (i: number, k: number) => iwcCols[i][k];
  return (
    <div style={{ position: "absolute", left: 0, top: 0, width: 1433, height: 1104, overflow: "hidden", background: "#ffffff" }}>
      <div style={{ position: "absolute", left: 30, top: 0, width: 2, height: 1104, background: "#a4c860" }} />
      <div style={{ position: "absolute", left: 32, top: 0, width: 1401, height: 1104, background: "#f0fde0" }} />
      <div style={{ position: "absolute", left: 52, top: 9, width: 1376, height: 1095, background: "#fafafa" }} />

      <div style={{ position: "absolute", left: 0, top: 0, width: 1433, height: 1104, filter: "blur(0.55px)" }}>
        <Centered x={741} y={38.5} size={35.4}>Adaptive habit bin model simulation - 5400s - X-band</Centered>
        <Centered x={365} y={93.5} size={29.5}>Z<span style={subStyle}>H</span></Centered>
        <Centered x={1038} y={93.5} size={29.5}>Z<span style={subStyle}>DR</span></Centered>
        <Centered x={364} y={599} size={29.5}>K<span style={subStyle}>DP</span></Centered>
        <Centered x={1037} y={601} size={30.5}>IWC</Centered>

        <Heat left={left1} top={top1} getValue={zh} stops={zhStops} yTitle="Z-distance (m)" />
        <Heat left={left2} top={top1} getValue={zdr} stops={zdrStops} />
        <Heat left={left1} top={top2} getValue={kdp} stops={kdpStops} xTitle="X-distance (m)" yTitle="Z-distance (m)" />
        <Heat left={left2} top={top2} getValue={iwc} stops={iwcStops} xTitle="X-distance (m)" />

        <Bar left={572} top={top1} stops={zhStops} ticks={zhTicks} digits={0} lo={-30} hi={15} />
        <Bar left={1245} top={top1} stops={zdrStops} ticks={zdrTicks} digits={1} lo={6} hi={7.5} />
        <Bar left={572} top={top2} stops={kdpStops} ticks={kdpTicks} digits={3} lo={-0.05} hi={0.15} />
        <Bar left={1245} top={top2} stops={iwcStops} ticks={iwcTicks} digits={3} lo={0} hi={0.0155} />

        <Rotated x={701} y={318} size={31}>(dBZ)</Rotated>
        <Rotated x={1372} y={318} size={31}>(dB)</Rotated>
        <Rotated x={737} y={823} size={31}>(°km<span style={supStyle}>−1</span>)</Rotated>
        <Rotated x={1403} y={823} size={31}>(g m<span style={supStyle}>−3</span>)</Rotated>
      </div>
    </div>
  );
}
